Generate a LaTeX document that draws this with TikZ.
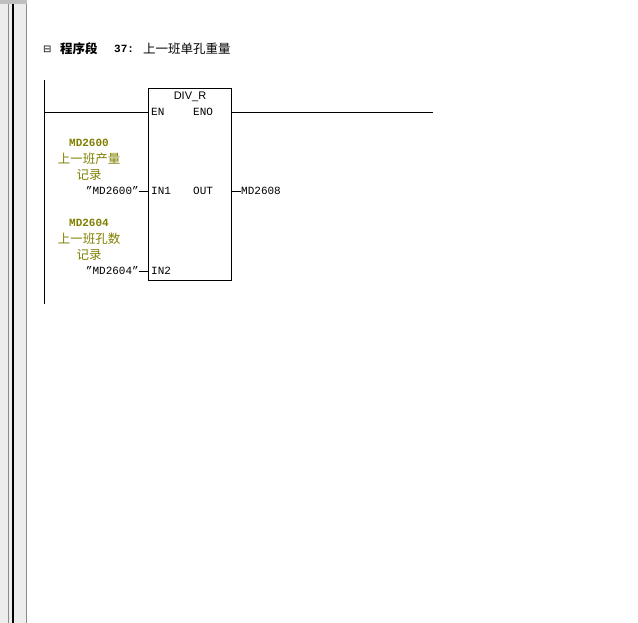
\documentclass[tikz,border=0pt]{standalone}
\usepackage{fontspec}
\setmainfont{Liberation Mono}
\newfontfamily\cjk{Noto Sans CJK SC}
\newfontfamily\sansf{Liberation Sans}
\newfontfamily\dejav{DejaVu Sans}
\definecolor{olive}{HTML}{808000}
\begin{document}
\begin{tikzpicture}[x=1pt,y=-1pt,
  txt/.style={inner sep=0pt,font=\fontsize{11}{11}\selectfont},
  cj/.style={inner sep=0pt,font=\cjk\fontsize{12.5}{13}\selectfont},
  ol/.style={text=olive},
  wire/.style={line width=0.8pt}]
\useasboundingbox[fill=white] (0,0) rectangle (638,623);
% left panel
\fill[black!7] (0,0) rectangle (27,623);
\draw[black!45] (8,0) -- (8,623);
\draw[black,line width=1.2pt] (13,0) -- (13,623);
\draw[black!45] (26.5,0) -- (26.5,623);
\fill[black!25] (0,0) rectangle (27,4);
% title
\node[inner sep=0pt,anchor=west,font=\dejav\fontsize{10}{10}\selectfont] (box) at (43,49) {⊟};
\node[cj,anchor=west,font=\cjk\bfseries\fontsize{12.5}{13}\selectfont] (t1) at (60,49) {程序段};
\node[txt,anchor=west,font=\bfseries\fontsize{11}{11}\selectfont] (t2) at (114,49) {37:};
\node[cj,anchor=west] (t3) at (143,49) {上一班单孔重量};
% rail
\coordinate (r1) at (44,80);
\coordinate (r2) at (44,304);
\draw[wire] (r1) -- (r2);
% box
\node[draw,wire,minimum width=83pt,minimum height=192pt,inner sep=0pt,anchor=north west] (blk) at (148,88) {};
\node[inner sep=0pt,font=\sansf\fontsize{11}{11}\selectfont] (name) at (190,97) {DIV\_R};
\node[txt,anchor=west] (en) at (151,112) {EN};
\node[txt,anchor=west] (eno) at (193,112) {ENO};
\node[txt,anchor=west] (in1) at (151,191) {IN1};
\node[txt,anchor=west] (out) at (193,191) {OUT};
\node[txt,anchor=west] (in2) at (151,271) {IN2};
\coordinate (ra) at (44,112);
\coordinate (eo) at (433,112);
\draw[wire] (ra) -- (blk.west |- en);
\draw[wire] (blk.east |- eno) -- (eo);
% inputs
\node[txt,ol,font=\bfseries\fontsize{11}{11}\selectfont] (m1) at (89,143) {MD2600};
\node[cj,ol] (c1) at (89,159) {上一班产量};
\node[cj,ol] (c1b) at (89,175) {记录};
\node[txt,anchor=east] (a1) at (139,191) {"MD2600"};
\draw[wire] (a1.east) -- (blk.west |- in1);
\node[txt,ol,font=\bfseries\fontsize{11}{11}\selectfont] (m2) at (89,223) {MD2604};
\node[cj,ol] (c2) at (89,239) {上一班孔数};
\node[cj,ol] (c2b) at (89,255) {记录};
\node[txt,anchor=east] (a2) at (139,271) {"MD2604"};
\draw[wire] (a2.east) -- (blk.west |- in2);
% output
\node[txt,anchor=west] (o1) at (241,191) {MD2608};
\draw[wire] (blk.east |- out) -- (o1.west);
\end{tikzpicture}
\end{document}
